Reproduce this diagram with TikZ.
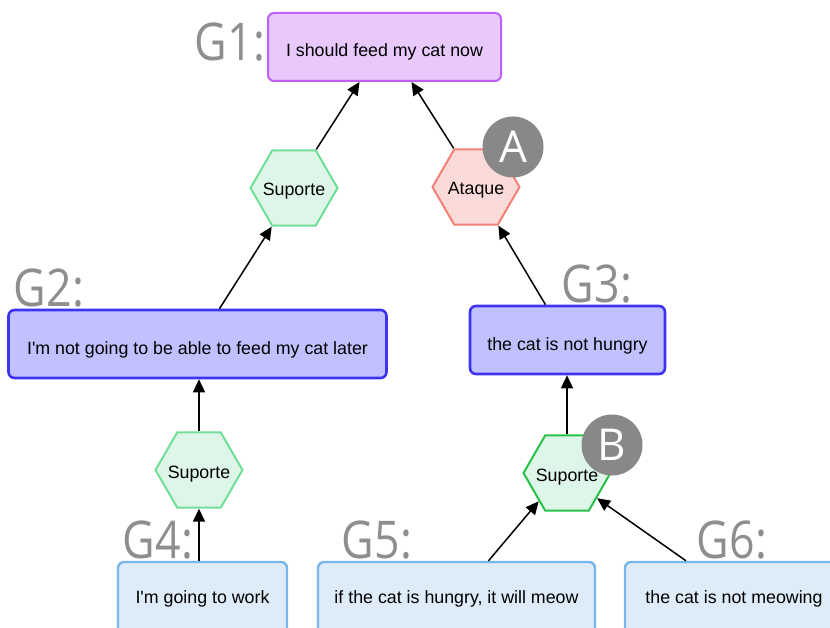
\documentclass[tikz,border=0pt]{standalone}
\usepackage{fontspec}
\setmainfont{Liberation Sans}
\newfontfamily\labelfamily{Open Sans}
\usetikzlibrary{arrows.meta,shapes.geometric}

\definecolor{goalfill}{RGB}{233,200,251}
\definecolor{goalline}{RGB}{188,96,248}
\definecolor{midfill}{RGB}{193,193,255}
\definecolor{midline}{RGB}{62,52,240}
\definecolor{leaffill}{RGB}{222,236,249}
\definecolor{leafline}{RGB}{118,182,232}
\definecolor{supfill}{RGB}{222,246,232}
\definecolor{supline}{RGB}{112,222,152}
\definecolor{supdark}{RGB}{40,192,72}
\definecolor{atkfill}{RGB}{251,218,218}
\definecolor{atkline}{RGB}{242,128,118}
\definecolor{tagfill}{RGB}{136,136,136}
\definecolor{labgray}{RGB}{142,142,142}

% zero-size text so the hexagon keeps its fixed size
\newcommand{\hextext}[1]{\smash{\makebox[0pt]{\raisebox{-8pt}{#1}}}}

\tikzset{
  x=1pt, y=-1pt,
  claim/.style={rectangle, rounded corners=6pt, inner sep=0pt,
    font=\fontsize{17.8}{20}\selectfont},
  goalbox/.style={claim, draw=goalline, fill=goalfill, line width=2pt,
    text height=20pt, text depth=0pt},
  midbox/.style={claim, draw=midline, fill=midfill, line width=2.6pt,
    text height=20pt, text depth=0pt},
  leafbox/.style={claim, draw=leafline, fill=leaffill, line width=2.4pt,
    text height=7pt, text depth=0pt},
  hexnode/.style={regular polygon, regular polygon sides=6, minimum size=87pt,
    inner sep=0pt, line width=2pt, font=\fontsize{17.8}{20}\selectfont},
  supnode/.style={hexnode, draw=supline, fill=supfill},
  atknode/.style={hexnode, draw=atkline, fill=atkfill},
  tagnode/.style={circle, fill=tagfill, minimum size=61pt, inner sep=0pt,
    text=white, font=\labelfamily\fontsize{44}{44}\selectfont},
  glabel/.style={text=labgray, inner sep=0pt, xscale=0.86,
    font=\labelfamily\fontsize{52}{52}\selectfont},
  link/.style={line width=1.5pt, -{Triangle[length=13pt,width=12pt]}},
}

\begin{document}
\begin{tikzpicture}
\useasboundingbox (0,0) rectangle (830,628);
\clip (0,0) rectangle (830,628);

% claims
\node[goalbox, minimum width=233pt, minimum height=68pt] (g1) at (384.5,47) {I should feed my cat now};
\node[midbox, minimum width=378pt, minimum height=68pt] (g2) at (197.5,344) {I\textquotesingle m not going to be able to feed my cat later};
\node[midbox, minimum width=195pt, minimum height=68pt] (g3) at (567.5,340) {the cat is not hungry};
\node[leafbox, minimum width=169pt, minimum height=76pt] (g4) at (202.5,600) {I\textquotesingle m going to work};
\node[leafbox, minimum width=277pt, minimum height=76pt] (g5) at (456.5,600) {if the cat is hungry, it will meow};
\node[leafbox, minimum width=218pt, minimum height=76pt] (g6) at (734,600) {the cat is not meowing};

% relations
\node[supnode] (s1) at (294,188) {\hextext{Suporte}};
\node[atknode] (a1) at (476,187) {\hextext{Ataque}};
\node[supnode] (s2) at (199,470) {\hextext{Suporte}};
\node[supnode, draw=supdark] (s3) at (567,473) {\hextext{Suporte}};

% markers
\node[tagnode] (ta) at (513,147) {A};
\node[tagnode] (tb) at (612,445) {B};

% goal labels
\node[glabel] (l1) at (230,42) {G1:};
\node[glabel] (l2) at (49,288) {G2:};
\node[glabel] (l3) at (597,284) {G3:};
\node[glabel] (l4) at (158,540) {G4:};
\node[glabel] (l5) at (377,540) {G5:};
\node[glabel] (l6) at (732,540) {G6:};

% connectors
\draw[link] (s1.60) -- ([xshift=-25pt]g1.south);
\draw[link] (a1.120) -- ([xshift=27pt]g1.south);
\draw[link] ([xshift=22pt]g2.north) -- (s1.240);
\draw[link] ([xshift=-22pt]g3.north) -- (a1.300);
\draw[link] (s2.north) -- (s2.north |- g2.south);
\draw[link] (s2.south |- g4.north) -- (s2.south);
\draw[link] (s3.north) -- (s3.north |- g3.south);
\draw[link] ([xshift=32pt]g5.north) -- (s3.225);
\draw[link] ([xshift=-48pt]g6.north) -- (s3.320);
\end{tikzpicture}
\end{document}
